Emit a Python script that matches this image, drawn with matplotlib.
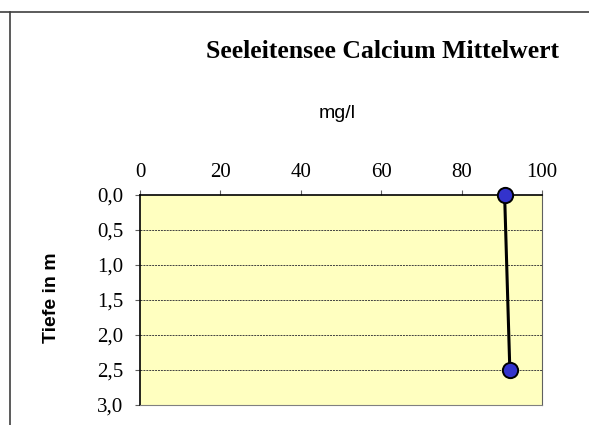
import matplotlib.pyplot as plt
from matplotlib.lines import Line2D

# data
depth = [0.0, 2.5]
calcium = [90.7, 92.0]
x_ticks = [0, 20, 40, 60, 80, 100]
y_ticks = [0.0, 0.5, 1.0, 1.5, 2.0, 2.5, 3.0]

fig = plt.figure(figsize=(5.89, 4.25), dpi=100)
ax = fig.add_axes([140/589, 1-405/425, 402/589, 210/425])
ax.set_facecolor('#ffffc0')

ax.plot(calcium, depth, color='black', lw=2.2, marker='o', ms=11,
        mfc='#3333cc', mec='black', mew=1.4, zorder=5, clip_on=False)

ax.set_xlim(0, 100)
ax.set_ylim(3.0, 0.0)
ax.set_xticks(x_ticks)
ax.set_yticks(y_ticks)
ax.set_yticklabels([f'{v:.1f}'.replace('.', ',') for v in y_ticks])
ax.xaxis.tick_top()
ax.tick_params(axis='both', direction='out', length=3.6, width=0.8, color='#606060',
               labelsize=15)
ax.tick_params(axis='x', pad=5.4)
ax.tick_params(axis='y', pad=8.6)
for lab in ax.get_xticklabels() + ax.get_yticklabels():
    lab.set_fontfamily('Liberation Serif')

for y in y_ticks[1:]:
    ax.axhline(y, color='#404040', lw=0.7, ls=(0, (2, 1)), zorder=1)

ax.spines['top'].set_color('black')
ax.spines['top'].set_linewidth(1.2)
ax.spines['left'].set_color('black')
ax.spines['left'].set_linewidth(1.2)
ax.spines['right'].set_color('#606060')
ax.spines['right'].set_linewidth(0.8)
ax.spines['bottom'].set_color('#808080')
ax.spines['bottom'].set_linewidth(0.8)

fig.text(382/589, 1-52/425, 'Seeleitensee Calcium Mittelwert', ha='center', va='center',
         fontsize=18.5, fontweight='bold', family='Liberation Serif')
fig.text(337/589, 1-113/425, 'mg/l', ha='center', va='center',
         fontsize=14, family='Liberation Sans')
fig.text(52/589, 1-298/425, 'Tiefe in m', ha='center', va='center', rotation=90,
         fontsize=14, fontweight='bold', family='Liberation Sans')

# frame lines of the chart area
fig.add_artist(Line2D([0, 1], [1-12/425, 1-12/425], color='#404040', lw=1.2))
fig.add_artist(Line2D([10/589, 10/589], [0, 1-12/425], color='#404040', lw=1.2))

fig.savefig('out.png', dpi=100)
